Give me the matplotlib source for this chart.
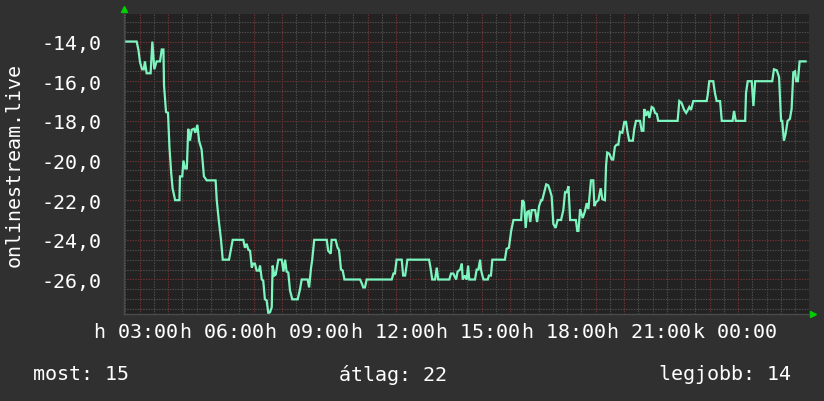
import matplotlib
matplotlib.use('Agg')
import matplotlib.pyplot as plt
from matplotlib import transforms
from matplotlib.ticker import MultipleLocator

# time of day in hours (3 = 03:00 monday, 24 = 00:00 tuesday)
hours = [
    2.49, 2.90, 2.96, 3.02, 3.09, 3.15, 3.19, 3.25, 3.39, 3.45, 3.52, 3.60, 3.72, 3.78, 3.84,
    3.86, 3.93, 4.00, 4.05, 4.11, 4.16, 4.25, 4.40, 4.42, 4.50, 4.54, 4.60, 4.66, 4.71, 4.77,
    4.83, 4.91, 4.96, 5.03, 5.09, 5.18, 5.26, 5.36, 5.67, 5.71, 5.78, 5.86, 5.92, 6.14, 6.20,
    6.27, 6.64, 6.70, 6.76, 6.82, 6.88, 6.94, 6.99, 7.05, 7.11, 7.19, 7.23, 7.29, 7.34, 7.40,
    7.46, 7.52, 7.58, 7.64, 7.67, 7.73, 7.78, 7.87, 7.99, 8.05, 8.11, 8.16, 8.22, 8.28, 8.36,
    8.55, 8.63, 8.69, 8.90, 8.95, 9.02, 9.06, 9.13, 9.57, 9.62, 9.71, 9.74, 9.88, 9.95, 10.00,
    10.07, 10.13, 10.19, 10.74, 10.80, 10.85, 10.91, 10.97, 11.85, 11.91, 11.96, 12.02, 12.20, 12.25, 12.32,
    12.40, 13.16, 13.22, 13.27, 13.37, 13.43, 13.48, 13.87, 13.93, 14.01, 14.11, 14.16, 14.25, 14.31, 14.34,
    14.42, 14.48, 14.53, 14.57, 14.77, 14.83, 14.89, 14.95, 14.98, 15.03, 15.07, 15.22, 15.26, 15.33, 15.38,
    15.82, 15.88, 15.96, 16.04, 16.12, 16.39, 16.43, 16.49, 16.55, 16.60, 16.66, 16.71, 16.76, 16.88, 16.95,
    17.02, 17.09, 17.13, 17.20, 17.27, 17.34, 17.40, 17.46, 17.52, 17.60, 17.67, 17.79, 17.87, 17.93, 17.99,
    18.05, 18.11, 18.31, 18.36, 18.40, 18.46, 18.55, 18.63, 18.69, 18.75, 18.84, 18.92, 18.96, 19.02, 19.10,
    19.18, 19.24, 19.33, 19.37, 19.41, 19.48, 19.57, 19.62, 19.68, 19.74, 19.80, 19.86, 19.94, 20.01, 20.07,
    20.12, 20.18, 20.31, 20.36, 20.42, 20.56, 20.62, 20.68, 20.71, 20.77, 20.83, 20.89, 20.97, 21.03, 21.09,
    21.15, 21.20, 21.88, 21.94, 22.02, 22.11, 22.18, 22.22, 22.29, 22.35, 22.43, 22.90, 22.94, 22.99, 23.13,
    23.19, 23.25, 23.37, 23.43, 23.81, 23.86, 23.92, 24.25, 24.28, 24.34, 24.48, 24.54, 24.60, 25.20, 25.26,
    25.36, 25.44, 25.51, 25.55, 25.61, 25.67, 25.74, 25.82, 25.88, 25.94, 26.00, 26.04, 26.10, 26.16, 26.37,
]
rank = [
    -14.0, -14.0, -14.4, -15.05, -15.4, -15.4, -15.0, -15.6, -15.6, -14.0, -15.4, -15.0, -15.0, -14.4, -14.4,
    -16.2, -17.55, -17.6, -19.3, -20.6, -21.4, -22.0, -22.0, -20.8, -20.8, -20.0, -20.4, -20.4, -18.4, -19.0,
    -18.45, -18.4, -18.6, -18.2, -19.0, -19.45, -20.8, -21.0, -21.0, -22.0, -23.0, -24.0, -25.0, -25.0, -24.55,
    -24.0, -24.0, -24.4, -24.2, -24.5, -24.55, -25.4, -25.2, -25.2, -25.55, -25.55, -25.3, -26.0, -26.05, -27.0,
    -27.05, -27.7, -27.65, -27.4, -25.3, -25.8, -25.75, -25.0, -25.0, -25.6, -25.0, -25.6, -25.65, -26.55, -27.0,
    -27.0, -26.5, -26.0, -26.0, -26.4, -25.4, -25.0, -24.0, -24.0, -24.55, -24.7, -24.0, -24.0, -24.4, -24.5,
    -25.5, -25.55, -26.0, -26.0, -26.2, -26.4, -26.4, -26.0, -26.0, -25.7, -25.7, -25.0, -25.0, -25.8, -25.8,
    -25.0, -25.0, -25.5, -26.0, -26.0, -25.4, -26.0, -26.0, -25.7, -25.7, -26.0, -25.6, -25.5, -25.2, -26.0,
    -25.8, -26.0, -25.3, -26.0, -26.0, -25.5, -25.5, -25.0, -25.5, -25.8, -26.0, -26.0, -25.8, -25.8, -25.0,
    -25.0, -24.45, -24.4, -23.55, -23.0, -23.0, -22.0, -22.1, -23.4, -22.6, -22.55, -23.1, -22.5, -22.5, -23.1,
    -22.3, -22.0, -22.0, -21.6, -21.2, -21.25, -21.5, -21.8, -23.2, -23.4, -23.0, -23.0, -22.5, -21.6, -21.6,
    -21.3, -23.0, -23.0, -23.55, -23.55, -22.45, -22.9, -22.55, -22.15, -22.45, -21.0, -21.0, -22.3, -22.1, -22.0,
    -21.4, -21.95, -22.0, -20.25, -19.6, -19.65, -19.95, -19.95, -19.3, -19.2, -19.2, -18.55, -18.6, -18.05, -18.05,
    -18.55, -19.0, -19.0, -18.4, -18.0, -18.0, -18.5, -18.5, -17.4, -17.75, -17.5, -17.85, -17.3, -17.35, -17.6,
    -17.65, -18.0, -18.0, -17.0, -17.1, -17.45, -17.6, -17.5, -17.3, -17.45, -17.0, -17.0, -16.65, -16.0, -16.0,
    -16.6, -17.0, -17.0, -18.0, -18.0, -17.5, -18.0, -18.0, -16.6, -16.0, -16.0, -17.25, -16.0, -16.0, -15.4,
    -15.45, -15.8, -18.0, -18.0, -19.0, -18.65, -18.0, -17.9, -17.4, -15.55, -15.5, -16.0, -16.0, -15.0, -15.0,
]

x_ticks = [3, 6, 9, 12, 15, 18, 21, 24]
x_labels = ['h 03:00', 'h 06:00', 'h 09:00', 'h 12:00', 'h 15:00', 'h 18:00', 'h 21:00', 'k 00:00']
y_ticks = [-26, -24, -22, -20, -18, -16, -14]
y_labels = ['-26,0', '-24,0', '-22,0', '-20,0', '-18,0', '-16,0', '-14,0']

legend_texts = ['most: 15', 'átlag: 22', 'legjobb: 14']

plt.rcParams['font.family'] = ['DejaVu Sans Mono']

fig = plt.figure(figsize=(8.24, 4.02), dpi=100, facecolor='#303030')
ax = fig.add_axes([124 / 824, 87 / 402, 685 / 824, 300 / 402])
ax.set_facecolor('#222222')

ax.set_xlim(2.456, 26.49)
ax.set_ylim(-27.74, -12.61)

# major ticks every hour (red grid), labels only every 3 hours
hour_ticks = list(range(3, 27))
labels_by_hour = dict(zip(x_ticks, x_labels))
ax.set_xticks(hour_ticks)
ax.set_xticklabels([labels_by_hour.get(h, '') for h in hour_ticks])
ax.set_yticks(y_ticks)
ax.set_yticklabels(y_labels)
ax.xaxis.set_minor_locator(MultipleLocator(0.5))
ax.yaxis.set_minor_locator(MultipleLocator(0.5))

ax.grid(which='minor', color='#505050', linestyle=(0, (1.2, 1.2)), linewidth=0.8)
ax.grid(which='major', color='#763232', linestyle=(0, (1.2, 1.2)), linewidth=0.8)
ax.set_axisbelow(True)

ax.plot(hours, rank, color='#7df5bf', linewidth=1.6, solid_joinstyle='miter')

ax.tick_params(axis='both', which='both', length=0, colors='white', labelsize=14.4)
ax.tick_params(axis='x', pad=6)
ax.tick_params(axis='y', pad=16)
shift = transforms.ScaledTranslation(-3.5 / 100, 0, fig.dpi_scale_trans)
for lab in ax.get_xticklabels():
    lab.set_transform(lab.get_transform() + shift)

for s in ['top', 'right']:
    ax.spines[s].set_visible(False)
for s in ['left', 'bottom']:
    ax.spines[s].set_color('#4a4a4a')
    ax.spines[s].set_linewidth(1.0)

# little green arrows at the axis ends
up = transforms.offset_copy(ax.transAxes, fig, x=0, y=5, units='dots')
ax.plot([0], [1], marker='^', color='#00d000', markersize=4, transform=up, clip_on=False)
rt = transforms.offset_copy(ax.transAxes, fig, x=4, y=0, units='dots')
ax.plot([1], [0], marker='>', color='#00d000', markersize=4, transform=rt, clip_on=False)

fig.text(14 / 824, 1 - 165 / 402, 'onlinestream.live', rotation=90, color='white',
         fontsize=14.4, ha='center', va='center')

fig.text(33 / 824, 1 - 375 / 402, legend_texts[0], color='white', fontsize=14.4, ha='left', va='center')
fig.text(393 / 824, 1 - 375 / 402, legend_texts[1], color='white', fontsize=14.4, ha='center', va='center')
fig.text(791 / 824, 1 - 375 / 402, legend_texts[2], color='white', fontsize=14.4, ha='right', va='center')

fig.savefig('out.png', dpi=100, facecolor=fig.get_facecolor())
